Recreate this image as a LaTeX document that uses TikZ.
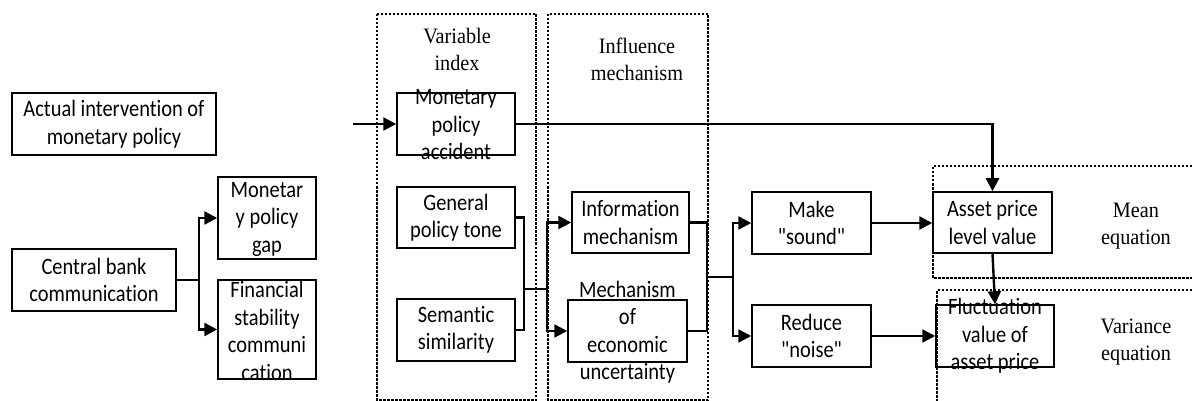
\documentclass[tikz,border=0pt]{standalone}
\usepackage{fontspec}
\setmainfont[FakeStretch=0.92]{Liberation Serif}
\newfontfamily\calfont[Ligatures=NoCommon,FakeStretch=0.87]{Carlito}
\usetikzlibrary{arrows.meta}
\begin{document}
\begin{tikzpicture}[x=1pt,y=-1pt,
  box/.style={draw,line width=1.5pt,inner sep=0pt,minimum width=#1},
  box/.default=118pt,
  txt/.style={align=center,inner sep=0pt,font=\calfont\fontsize{23.5}{27.5}\selectfont},
  lbl/.style={align=center,inner sep=0pt,font=\fontsize{22}{27}\selectfont},
  dbox/.style={draw,line width=1.1pt,dash pattern=on 2.5pt off 1.5pt},
  conn/.style={line width=2.4pt},
  arr/.style={line width=2.4pt,-{Triangle[length=13pt,width=13pt]}}]
\useasboundingbox (0,0) rectangle (1192,401);
% dashed groups
\draw[dbox] (377,14) rectangle (536,400);
\draw[dbox] (548,14) rectangle (708,400);
\draw[dbox] (1192,166) -- (933,166) -- (933,278) -- (1192,278);
\draw[dbox] (1192,290) -- (937,290) -- (937,401);
% group labels
\node[lbl] (lvi) at (457,49) {Variable\\index};
\node[lbl] (lim) at (637,59) {Influence\\mechanism};
\node[lbl] (lme) at (1136,226) {Mean\\equation};
\node[lbl] (lve) at (1136,342) {Variance\\equation};
% boxes
\node[box=204pt,minimum height=62pt] (act) at (114,124) {};
\node[box=98pt,minimum height=82pt] (gap) at (267,218) {};
\node[box=164pt,minimum height=62pt] (cbc) at (94,280) {};
\node[box=98pt,minimum height=99pt] (fsc) at (267,329.5) {};
\node[box,minimum height=62pt] (mpa) at (456,124) {};
\node[box,minimum height=61pt] (gpt) at (456,217.5) {};
\node[box,minimum height=62pt] (sem) at (456,330) {};
\node[box=117pt,minimum height=61pt] (inf) at (630.5,222.5) {};
\node[box=119pt,minimum height=62pt] (meu) at (627.5,331) {};
\node[box=119pt,minimum height=62pt] (make) at (811.5,223) {};
\node[box=119pt,minimum height=62pt] (red) at (811.5,336) {};
\node[box=119pt,minimum height=61pt] (asset) at (992.5,222.5) {};
\node[box,minimum height=62pt] (fluc) at (995,336) {};
% box texts
\node[txt] (tact) at (act) {Actual intervention of\\monetary policy};
\node[txt] (tgap) at (267,219) {Monetar\\y policy\\gap};
\node[txt] (tcbc) at (cbc) {Central bank\\communication};
\node[txt] (tfsc) at (267,331) {Financial\\stability\\communi\\cation};
\node[txt] (tmpa) at (456,125) {Monetary\\policy\\accident};
\node[txt] (tgpt) at (gpt) {General\\policy tone};
\node[txt] (tsem) at (sem) {Semantic\\similarity};
\node[txt] (tinf) at (inf) {Information\\mechanism};
\node[txt] (tmeu) at (627.5,332) {Mechanism\\of\\economic\\uncertainty};
\node[txt] (tmake) at (make) {Make\\"sound"};
\node[txt] (tred) at (red) {Reduce\\"noise"};
\node[txt] (tasset) at (asset) {Asset price\\level value};
\node[txt] (tfluc) at (995,336) {Fluctuation\\value of\\asset price};
% connectors
\coordinate (b1) at (199,280);
\draw[conn] (cbc.east) -- (b1);
\draw[arr] (b1) |- (gap.west);
\draw[arr] (b1) |- (fsc.west);
\coordinate (s0) at (353,124);
\draw[arr] (s0) -- (mpa.west);
\draw[arr] (mpa.east) -| (asset.north);
\coordinate (j1) at (524,289);
\coordinate (j2) at (547,289);
\draw[conn] (gpt.east) -| (j1) |- (sem.east);
\draw[conn] (j1) -- (j2);
\draw[arr] (j2) |- (inf.west);
\draw[arr] (j2) |- (meu.west);
\coordinate (j3) at (707,277);
\coordinate (j4) at (733,277);
\draw[conn] (inf.east) -| (j3) |- (meu.east);
\draw[conn] (j3) -- (j4);
\draw[arr] (j4) |- (make.west);
\draw[arr] (j4) |- (red.west);
\draw[arr] (make.east) -- (make.east -| asset.west);
\draw[arr] (red.east) -- (red.east -| fluc.west);
\draw[arr] (asset.south) -- (fluc.north);
\end{tikzpicture}
\end{document}
